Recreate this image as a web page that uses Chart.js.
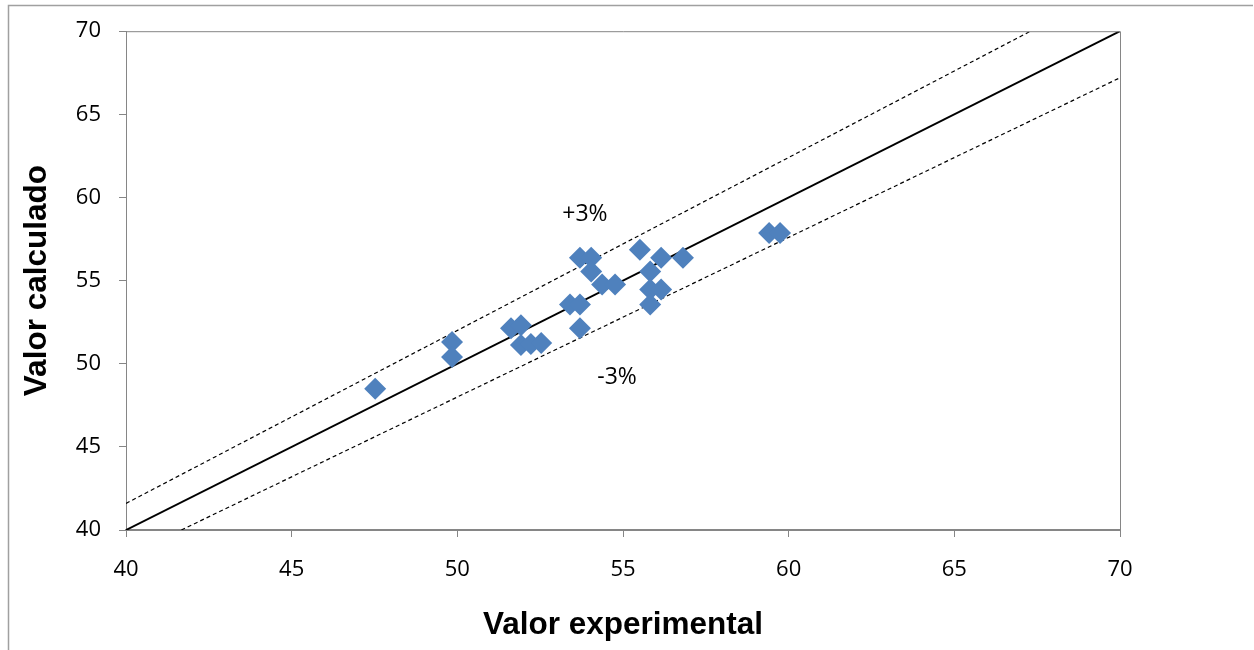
<!DOCTYPE html>
<html>
<head>
<meta charset="utf-8">
<script src="https://cdn.jsdelivr.net/npm/chart.js@4"></script>
<style>
  body { margin: 0; background: #fff; }
</style>
</head>
<body>
<canvas id="chart" width="1254" height="650"></canvas>
<script>
// measured points (Valor experimental, Valor calculado)
var expVals = [47.52, 49.84, 49.84, 51.62, 51.92, 51.92, 52.22, 52.53, 53.40, 53.70, 53.70, 53.70, 54.04,
               54.04, 54.37, 54.76, 55.51, 55.82, 55.82, 55.82, 56.15, 56.15, 56.81, 59.41, 59.74];
var calcVals = [48.49, 51.30, 50.40, 52.13, 52.31, 51.12, 51.18, 51.24, 53.57, 53.57, 52.13, 56.38, 56.38,
                55.54, 54.76, 54.76, 56.86, 55.54, 54.46, 53.57, 56.38, 54.46, 56.38, 57.87, 57.87];

// reference lines (end points)
var idealX = [40, 70];
var idealY = [40, 70];
var upperX = [40, 67.3];
var upperY = [41.6, 70];
var lowerX = [41.67, 70];
var lowerY = [40, 67.2];

// band labels
var bandText = ['+3%', '-3%'];
var bandX = [53.85, 54.82];
var bandY = [59.0, 49.15];

var axisTicks = [40, 45, 50, 55, 60, 65, 70];

function pairs(xs, ys) {
  return xs.map(function (x, i) { return { x: x, y: ys[i] }; });
}

var axisGray = '#868686';

const framePlugin = {
  id: 'frame',
  beforeDraw(chart) {
    const c = chart.ctx;
    c.save();
    c.fillStyle = '#fff';
    c.fillRect(0, 0, chart.width, chart.height);
    c.strokeStyle = '#a0a0a0';
    c.lineWidth = 1.5;
    c.beginPath();
    c.moveTo(8.5, 650);
    c.lineTo(8.5, 5.5);
    c.lineTo(1253, 5.5);
    c.stroke();
    c.restore();
  },
  afterDatasetsDraw(chart) {
    const c = chart.ctx;
    const a = chart.chartArea;
    c.save();
    c.strokeStyle = axisGray;
    c.lineWidth = 1;
    c.beginPath();
    c.moveTo(a.left, a.top + 0.5);
    c.lineTo(a.right + 0.5, a.top + 0.5);
    c.lineTo(a.right + 0.5, a.bottom);
    c.stroke();
    c.fillStyle = '#000';
    c.font = '23px "Open Sans"';
    c.textAlign = 'center';
    c.textBaseline = 'middle';
    bandText.forEach(function (t, i) {
      c.fillText(t, chart.scales.x.getPixelForValue(bandX[i]), chart.scales.y.getPixelForValue(bandY[i]));
    });
    c.restore();
  }
};

new Chart(document.getElementById('chart'), {
  type: 'scatter',
  data: {
    datasets: [{
      label: 'Datos',
      data: pairs(expVals, calcVals),
      pointStyle: 'rectRot',
      pointRadius: 11,
      pointHoverRadius: 11,
      backgroundColor: '#4F81BD',
      borderWidth: 0,
      order: 0
    }, {
      label: 'y = x',
      type: 'line',
      data: pairs(idealX, idealY),
      borderColor: '#000',
      borderWidth: 2,
      pointRadius: 0,
      order: 1
    }, {
      label: '+3%',
      type: 'line',
      data: pairs(upperX, upperY),
      borderColor: '#000',
      borderWidth: 1.2,
      borderDash: [4, 3],
      pointRadius: 0,
      order: 1
    }, {
      label: '-3%',
      type: 'line',
      data: pairs(lowerX, lowerY),
      borderColor: '#000',
      borderWidth: 1.2,
      borderDash: [4, 3],
      pointRadius: 0,
      order: 1
    }]
  },
  options: {
    responsive: false,
    animation: false,
    devicePixelRatio: 1,
    layout: { padding: { left: 0, right: 134, top: 26, bottom: 0 } },
    plugins: {
      legend: { display: false },
      tooltip: { enabled: false }
    },
    scales: {
      x: {
        type: 'linear',
        min: 40,
        max: 70,
        afterBuildTicks: function (s) { s.ticks = axisTicks.map(function (v) { return { value: v }; }); },
        afterFit: function (s) { s.height = 120; },
        grid: { drawOnChartArea: false, color: axisGray, tickLength: 7 },
        border: { color: axisGray, width: 2 },
        ticks: { color: '#000', font: { family: 'Open Sans', size: 22 }, padding: 20, maxRotation: 0 },
        title: {
          display: true,
          text: 'Valor experimental',
          color: '#000',
          font: { family: 'Liberation Sans', size: 31.5, weight: 'bold' },
          padding: { top: 0, bottom: 6 }
        }
      },
      y: {
        type: 'linear',
        min: 40,
        max: 70,
        afterBuildTicks: function (s) { s.ticks = axisTicks.map(function (v) { return { value: v }; }); },
        afterFit: function (s) { s.width = 126; },
        grid: { drawOnChartArea: false, color: axisGray, tickLength: 7 },
        border: { color: axisGray, width: 1 },
        ticks: { color: '#000', font: { family: 'Open Sans', size: 22 }, padding: 18 },
        title: {
          display: true,
          text: 'Valor calculado',
          color: '#000',
          font: { family: 'Liberation Sans', size: 31.5, weight: 'bold' },
          padding: { top: 18, bottom: 0 }
        }
      }
    }
  },
  plugins: [framePlugin]
});
</script>
</body>
</html>
